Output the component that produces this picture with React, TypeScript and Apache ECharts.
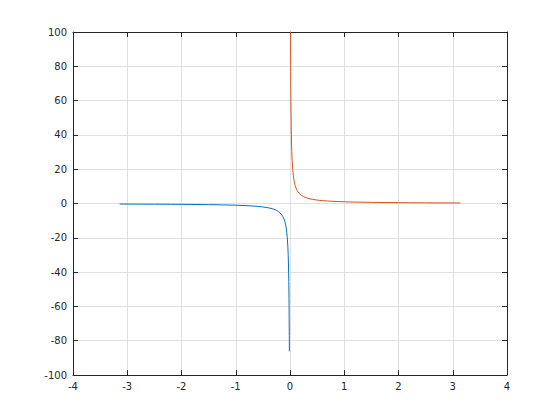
import React, { useEffect, useRef } from "react";
import * as echarts from "echarts";

const xTicks = { min: -4, max: 4, interval: 1 };
const yTicks = { min: -100, max: 100, interval: 20 };

const negX = [-3.14, -2.8, -2.5, -2.2, -2, -1.75, -1.5, -1.25, -1, -0.85, -0.7, -0.6, -0.5, -0.42, -0.35, -0.3, -0.25, -0.21, -0.18, -0.15, -0.13, -0.11, -0.095, -0.08, -0.07, -0.06, -0.05, -0.04, -0.033, -0.027, -0.022, -0.018, -0.015, -0.013, -0.0116];
const negY = [-0.318, -0.357, -0.4, -0.455, -0.5, -0.571, -0.667, -0.8, -1, -1.18, -1.43, -1.67, -2, -2.38, -2.86, -3.33, -4, -4.76, -5.56, -6.67, -7.69, -9.09, -10.5, -12.5, -14.3, -16.7, -20, -25, -30.3, -37, -45.5, -55.6, -66.7, -76.9, -86.2];

const posX = [0.008, 0.0095, 0.0116, 0.013, 0.015, 0.018, 0.022, 0.027, 0.033, 0.04, 0.05, 0.06, 0.07, 0.08, 0.095, 0.11, 0.13, 0.15, 0.18, 0.21, 0.25, 0.3, 0.35, 0.42, 0.5, 0.6, 0.7, 0.85, 1, 1.25, 1.5, 1.75, 2, 2.2, 2.5, 2.8, 3.14];
const posY = [125, 105.3, 86.2, 76.9, 66.7, 55.6, 45.5, 37, 30.3, 25, 20, 16.7, 14.3, 12.5, 10.5, 9.09, 7.69, 6.67, 5.56, 4.76, 4, 3.33, 2.86, 2.38, 2, 1.67, 1.43, 1.18, 1, 0.8, 0.667, 0.571, 0.5, 0.455, 0.4, 0.357, 0.318];

const axisColor = "#262626";
const gridColor = "#dfdfdf";

export default function App() {
  const ref = useRef<HTMLDivElement>(null);
  useEffect(() => {
    if (!ref.current) return;
    const chart = echarts.init(ref.current, null, { renderer: "svg" });
    const label = { color: axisColor, fontSize: 10, fontFamily: "DejaVu Sans" };
    const mainX = {
      type: "value",
      ...xTicks,
      position: "bottom",
      axisLine: { show: true, onZero: false, lineStyle: { color: axisColor, width: 1 } },
      axisTick: { show: true, inside: true, length: 5, lineStyle: { color: axisColor } },
      axisLabel: { ...label, margin: 6 },
      splitLine: { show: true, lineStyle: { color: gridColor, width: 1 } },
    };
    const topX = {
      ...mainX,
      position: "top",
      axisLabel: { show: false },
      splitLine: { show: false },
    };
    const mainY = {
      type: "value",
      ...yTicks,
      position: "left",
      axisLine: { show: true, onZero: false, lineStyle: { color: axisColor, width: 1 } },
      axisTick: { show: true, inside: true, length: 5, lineStyle: { color: axisColor } },
      axisLabel: { ...label, margin: 6 },
      splitLine: { show: true, lineStyle: { color: gridColor, width: 1 } },
    };
    const rightY = {
      ...mainY,
      position: "right",
      axisLabel: { show: false },
      splitLine: { show: false },
    };
    chart.setOption({
      animation: false,
      backgroundColor: "#ffffff",
      grid: { left: 73, right: 53, top: 32, bottom: 45, containLabel: false },
      xAxis: [mainX, topX],
      yAxis: [mainY, rightY],
      series: [
        {
          type: "line",
          data: negX.map((x, i) => [x, negY[i]]),
          showSymbol: false,
          symbol: "none",
          clip: true,
          lineStyle: { color: "#0072BD", width: 1 },
          itemStyle: { color: "#0072BD" },
        },
        {
          type: "line",
          data: posX.map((x, i) => [x, posY[i]]),
          showSymbol: false,
          symbol: "none",
          clip: true,
          lineStyle: { color: "#D95319", width: 1 },
          itemStyle: { color: "#D95319" },
        },
      ],
    });
    return () => chart.dispose();
  }, []);
  return (
    <div
      ref={ref}
      style={{ position: "absolute", left: 0, top: 0, width: 560, height: 420 }}
    />
  );
}
